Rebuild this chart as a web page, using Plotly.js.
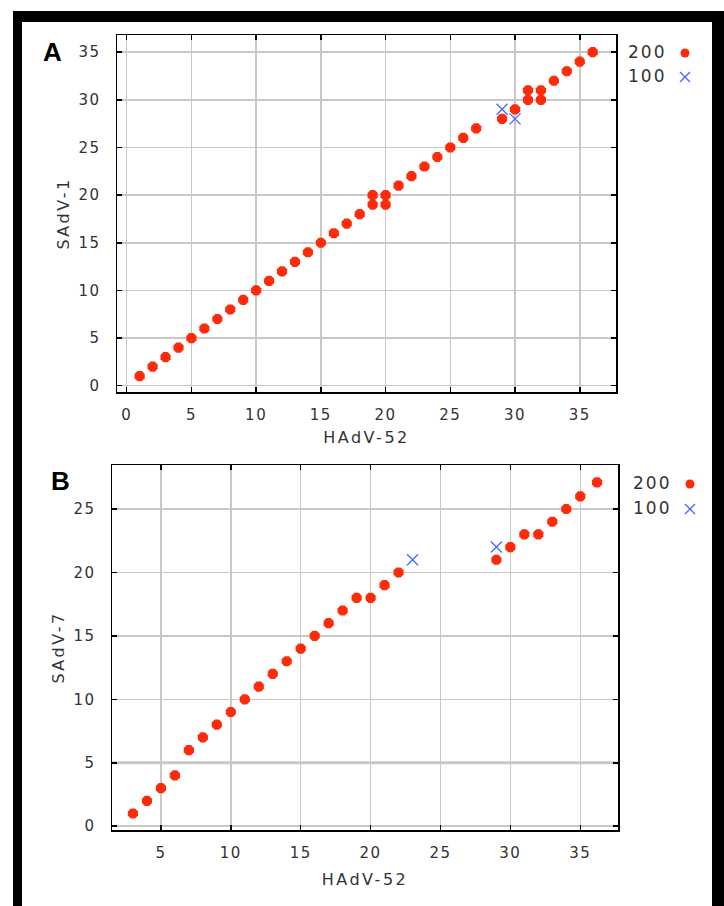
<!DOCTYPE html>
<html>
<head>
<meta charset="utf-8">
<script src="https://cdn.plot.ly/plotly-3.0.1.min.js"></script>
<style>
html,body{margin:0;padding:0;background:#fff;}
#chart{width:724px;height:906px;}
.main-svg .xtick text, .main-svg .ytick text, .main-svg .x2tick text, .main-svg .y2tick text{letter-spacing:1.5px;}
.main-svg .xtitle, .main-svg .ytitle, .main-svg .x2title, .main-svg .y2title{letter-spacing:2.5px;}
.main-svg .annotation-text.leg{letter-spacing:2px;}
</style>
</head>
<body>
<div id="chart"></div>
<script>
// Panel A: HAdV-52 vs SAdV-1
const aX200 = [1,2,3,4,5,6,7,8,9,10,11,12,13,14,15,16,17,18,19,19,20,20,21,22,23,24,25,26,27,29,30,31,31,32,32,33,34,35,36];
const aY200 = [1,2,3,4,5,6,7,8,9,10,11,12,13,14,15,16,17,18,19,20,19,20,21,22,23,24,25,26,27,28,29,30,31,30,31,32,33,34,35];
const aX100 = [29,30];
const aY100 = [29,28];
// Panel B: HAdV-52 vs SAdV-7
const bX200 = [3,4,5,6,7,8,9,10,11,12,13,14,15,16,17,18,19,20,21,22,29,30,31,32,33,34,35,36.2];
const bY200 = [1,2,3,4,6,7,8,9,10,11,12,13,14,15,16,17,18,18,19,20,21,22,23,23,24,25,26,27.1];
const bX100 = [23,29];
const bY100 = [21,22];

const seriesNames = ["200","100"];
const xTitle = "HAdV-52";
const yTitleA = "SAdV-1";
const yTitleB = "SAdV-7";

const W = 724, H = 906;
const px = v => v / W;
const py = v => 1 - v / H;

const red = "#ff2a0a";
const blue = "#4a6cff";
const gridC = "#c8c8c8";
const fontC = "#333333";
const tickFont = {family: "DejaVu Sans", size: 15, color: fontC};
const titleFont = {family: "DejaVu Sans", size: 16, color: fontC};
const legFont = {family: "DejaVu Sans", size: 17, color: fontC};

function ptsRed(x, y, xa, ya) {
  return {x: x, y: y, xaxis: xa, yaxis: ya, type: "scatter", mode: "markers",
    name: seriesNames[0], showlegend: false,
    marker: {symbol: "octagon", size: 11, color: red, line: {width: 0}}};
}
function ptsBlue(x, y, xa, ya) {
  return {x: x, y: y, xaxis: xa, yaxis: ya, type: "scatter", mode: "markers",
    name: seriesNames[1], showlegend: false,
    marker: {symbol: "x-thin-open", size: 11, color: blue, line: {width: 1.4, color: blue}}};
}

const data = [
  ptsRed(aX200, aY200, "x", "y"),
  ptsBlue(aX100, aY100, "x", "y"),
  ptsRed(bX200, bY200, "x2", "y2"),
  ptsBlue(bX100, bY100, "x2", "y2")
];

function axis(extra) {
  return Object.assign({
    showline: true, linecolor: "#000", linewidth: 1.5, mirror: "ticks",
    ticks: "inside", ticklen: 5, tickwidth: 1.5, tickcolor: "#000",
    showgrid: true, gridcolor: gridC, gridwidth: 1.5, zeroline: false,
    tickfont: tickFont, automargin: false, dtick: 5, tick0: 0
  }, extra);
}

const layout = {
  width: W, height: H,
  margin: {l: 0, r: 0, t: 0, b: 0},
  paper_bgcolor: "#fff", plot_bgcolor: "#fff",
  showlegend: false,
  xaxis: axis({domain: [px(117), px(616)], range: [-0.75, 37.8], anchor: "y",
    ticklabelstandoff: 8,
    title: {text: xTitle, font: titleFont, standoff: 9}}),
  yaxis: axis({domain: [py(392), py(35)], range: [-0.66, 36.8], anchor: "x",
    ticklabelstandoff: 12,
    title: {text: yTitleA, font: titleFont, standoff: 8}}),
  xaxis2: axis({domain: [px(112), px(618)], range: [1.5, 37.7], anchor: "y2",
    ticklabelstandoff: 8,
    title: {text: xTitle, font: titleFont, standoff: 13}}),
  yaxis2: axis({domain: [py(830), py(465)], range: [-0.3, 28.47], anchor: "x2",
    ticklabelstandoff: 12,
    title: {text: yTitleB, font: titleFont, standoff: 8}}),
  annotations: [
    {text: "<b>A</b>", xref: "paper", yref: "paper", x: px(52), y: py(52), showarrow: false,
      xanchor: "center", yanchor: "middle", font: {family: "Liberation Sans", size: 26, color: "#000"}},
    {text: "<b>B</b>", xref: "paper", yref: "paper", x: px(60), y: py(481), showarrow: false,
      xanchor: "center", yanchor: "middle", font: {family: "Liberation Sans", size: 26, color: "#000"}},
    {text: seriesNames[0], xref: "paper", yref: "paper", x: px(647), y: py(52), showarrow: false,
      xanchor: "center", yanchor: "middle", font: legFont},
    {text: seriesNames[1], xref: "paper", yref: "paper", x: px(647), y: py(76), showarrow: false,
      xanchor: "center", yanchor: "middle", font: legFont},
    {text: seriesNames[0], xref: "paper", yref: "paper", x: px(652), y: py(483), showarrow: false,
      xanchor: "center", yanchor: "middle", font: legFont},
    {text: seriesNames[1], xref: "paper", yref: "paper", x: px(652), y: py(508), showarrow: false,
      xanchor: "center", yanchor: "middle", font: legFont}
  ],
  shapes: [
    // black frame
    {type: "rect", xref: "paper", yref: "paper", x0: px(13), x1: px(724), y0: py(11), y1: py(22), fillcolor: "#000", line: {width: 0}},
    {type: "rect", xref: "paper", yref: "paper", x0: px(13), x1: px(22), y0: py(906), y1: py(11), fillcolor: "#000", line: {width: 0}},
    {type: "rect", xref: "paper", yref: "paper", x0: px(712), x1: px(724), y0: py(906), y1: py(11), fillcolor: "#000", line: {width: 0}},
    // thicker gridline at y=5 in panel B
    {type: "line", xref: "x2 domain", yref: "y2", x0: 0, x1: 1, y0: 5, y1: 5, layer: "below", line: {color: gridC, width: 3}},
    // legend swatches A
    {type: "circle", xref: "paper", yref: "paper", x0: px(680.5), x1: px(689.5), y0: py(57.5), y1: py(48.5), fillcolor: red, line: {width: 0}},
    {type: "line", xref: "paper", yref: "paper", x0: px(680), x1: px(690), y0: py(72), y1: py(82), line: {color: blue, width: 1.4}},
    {type: "line", xref: "paper", yref: "paper", x0: px(680), x1: px(690), y0: py(82), y1: py(72), line: {color: blue, width: 1.4}},
    // legend swatches B
    {type: "circle", xref: "paper", yref: "paper", x0: px(685.5), x1: px(694.5), y0: py(488.5), y1: py(479.5), fillcolor: red, line: {width: 0}},
    {type: "line", xref: "paper", yref: "paper", x0: px(685), x1: px(695), y0: py(504), y1: py(514), line: {color: blue, width: 1.4}},
    {type: "line", xref: "paper", yref: "paper", x0: px(685), x1: px(695), y0: py(514), y1: py(504), line: {color: blue, width: 1.4}}
  ]
};

Plotly.newPlot("chart", data, layout, {staticPlot: true, displayModeBar: false}).then(function () {
  document.querySelectorAll(".annotation-text").forEach(function (el) {
    if (/^\d+$/.test(el.textContent)) el.classList.add("leg");
  });
});
</script>
</body>
</html>
